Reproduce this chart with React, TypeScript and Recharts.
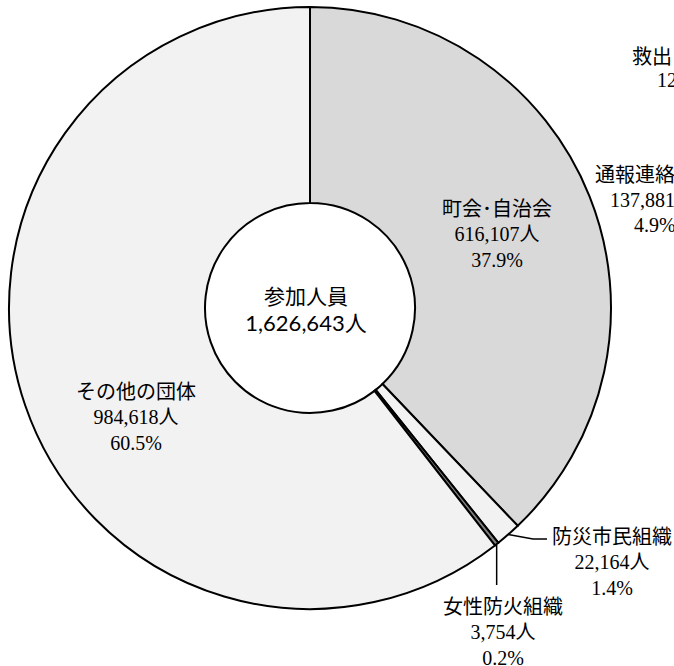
import { PieChart, Pie, Cell } from 'recharts'

const CATEGORIES = ['町会･自治会', '防災市民組織', '女性防火組織', 'その他の団体']
const VALUES = [616107, 22164, 3754, 984618]
const FILLS = ['#d9d9d9', '#f2f2f2', '#7f7f7f', '#f2f2f2']
const CENTER_TITLE = '参加人員'
const UNIT = '人'

const TOTAL = VALUES.reduce((a, b) => a + b, 0)
const data = CATEGORIES.map((name, i) => ({ name, value: VALUES[i] }))

const W = 674
const H = 666
const CX = 310
const CY = 308

// label offsets from the pie centre (text centre of the first line)
const LABEL_POS = [
  { dx: 187, dy: -101, leader: '' },
  { dx: 302, dy: 227, leader: 'elbow' },
  { dx: 193, dy: 297, leader: 'down' },
  { dx: -174, dy: 82, leader: '' },
]

const JP = '"Noto Sans CJK JP", sans-serif'
const NUM = '"Liberation Serif", "Noto Sans CJK JP", serif'
const LINE = 26.5
const RAD = Math.PI / 180

const fmt = (n: number) => n.toLocaleString('en-US')

function renderLabel(props: any) {
  const { cx, cy, midAngle, outerRadius, index } = props
  const pos = LABEL_POS[index]
  const x = cx + pos.dx
  const y = cy + pos.dy
  const v = VALUES[index]
  const pct = ((v / TOTAL) * 100).toFixed(1) + '%'
  let leader = null
  if (pos.leader) {
    const ex = cx + outerRadius * Math.cos(-midAngle * RAD)
    const ey = cy + outerRadius * Math.sin(-midAngle * RAD)
    if (pos.leader === 'elbow') {
      const left = x - 60
      leader = (
        <polyline
          points={`${ex},${ey} ${left - 19},${y + 4} ${left - 5},${y + 4}`}
          fill="none" stroke="#000" strokeWidth={1.5}
        />
      )
    } else {
      leader = (
        <line x1={ex} y1={ey} x2={ex} y2={y - 20} stroke="#000" strokeWidth={1.5} />
      )
    }
  }
  return (
    <g key={`lbl-${index}`}>
      {leader}
      <text x={x} y={y} textAnchor="middle" dominantBaseline="central"
        fontFamily={JP} fontSize={20} fill="#000">{CATEGORIES[index]}</text>
      <text x={x} y={y + LINE} textAnchor="middle" dominantBaseline="central"
        fontFamily={NUM} fontSize={20} fill="#000">{fmt(v) + UNIT}</text>
      <text x={x} y={y + LINE * 2} textAnchor="middle" dominantBaseline="central"
        fontFamily={NUM} fontSize={20} fill="#000">{pct}</text>
    </g>
  )
}

export default function App() {
  return (
    <div style={{ position: 'relative', width: W, height: H, overflow: 'hidden' }}>
      <style>{'body{margin:0}'}</style>
      <PieChart width={W} height={H} margin={{ top: 0, right: 0, bottom: 0, left: 0 }}>
        <Pie
          data={data}
          dataKey="value"
          nameKey="name"
          cx={CX}
          cy={CY}
          innerRadius={105}
          outerRadius={301}
          startAngle={90}
          endAngle={-270}
          stroke="#000"
          strokeWidth={2}
          label={renderLabel}
          labelLine={false}
          isAnimationActive={false}
        >
          {data.map((d, i) => (
            <Cell key={d.name} fill={FILLS[i]} stroke="#000" strokeWidth={2} />
          ))}
        </Pie>
      </PieChart>
      <svg width={W} height={H} style={{ position: 'absolute', left: 0, top: 0, pointerEvents: 'none' }}>
        <text x={CX - 4} y={CY - 13} textAnchor="middle" dominantBaseline="central"
          fontFamily={JP} fontSize={21} fill="#000">{CENTER_TITLE}</text>
        <text x={CX - 4} y={CY + 14} textAnchor="middle" dominantBaseline="central"
          fontFamily={'Lato, "Noto Sans CJK JP", sans-serif'} fontSize={22} fill="#000">{fmt(TOTAL) + UNIT}</text>
        {/* neighbouring chart's labels, cut off at the right edge */}
        <text x={632} y={55} dominantBaseline="central" fontFamily={JP} fontSize={20}>救出</text>
        <text x={657} y={80} dominantBaseline="central" fontFamily={NUM} fontSize={20}>12</text>
        <text x={595} y={173} dominantBaseline="central" fontFamily={JP} fontSize={20}>通報連絡</text>
        <text x={610} y={200} dominantBaseline="central" fontFamily={NUM} fontSize={20}>137,881</text>
        <text x={634} y={225} dominantBaseline="central" fontFamily={NUM} fontSize={20}>4.9%</text>
      </svg>
    </div>
  )
}
